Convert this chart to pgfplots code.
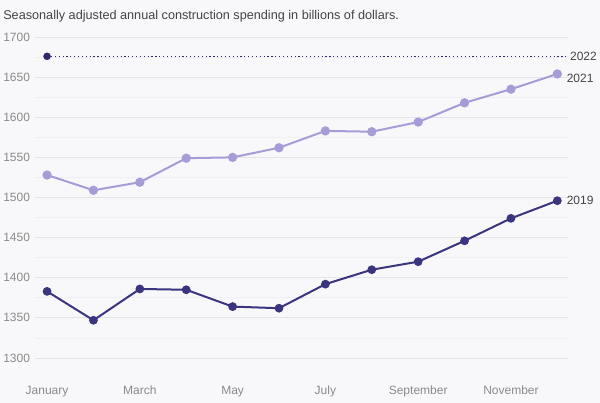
\documentclass[border=0pt]{standalone}
\usepackage{pgfplots}
\pgfplotsset{compat=1.18}
\usepackage{fontspec}
\setmainfont{Liberation Sans}
\definecolor{bgc}{HTML}{F8F8FA}
\definecolor{darkc}{HTML}{3B347F}
\definecolor{lightc}{HTML}{A59CD8}
\definecolor{navyc}{HTML}{2F2A6E}
\definecolor{tickc}{HTML}{8A8A8A}
\definecolor{labc}{HTML}{444444}
\definecolor{gridc}{HTML}{E4E4E8}
\definecolor{mgridc}{HTML}{F0F0F3}
\begin{document}
\begin{tikzpicture}
\fill[bgc] (0pt,0pt) rectangle (450pt,-302.25pt);
\node[anchor=base west, inner sep=0, text=labc, font=\fontsize{9.5}{11}\selectfont] at (2.25pt,-14.5pt) {Seasonally adjusted annual construction spending in billions of dollars.};
\begin{axis}[
  at={(26.25pt,-280.5pt)}, anchor=south west,
  scale only axis, width=399.75pt, height=258.75pt,
  xmin=-0.26, xmax=11.23, ymin=1280, ymax=1710,
  axis line style={draw=none},
  tick style={draw=none},
  ytick={1300,1350,...,1700},
  minor ytick={1325,1375,...,1675},
  ymajorgrids, yminorgrids,
  major grid style={draw=gridc, line width=0.6pt},
  minor grid style={draw=mgridc, line width=0.5pt},
  xtick={0,2,4,6,8,10},
  xticklabels={January,March,May,July,September,November},
  ticklabel style={text=tickc, font=\fontsize{9}{10}\selectfont},
  yticklabel style={anchor=west, inner sep=0pt, xshift=-24pt},
  xticklabel style={inner sep=0pt, anchor=base, yshift=-15.5pt},
  /pgf/number format/assume math mode=true,
  /pgf/number format/1000 sep={},
  clip=false,
]
\addplot[navyc, line width=0.9pt, dotted, forget plot] coordinates {(0,1676) (11.22,1676)} node[right, text=labc, font=\fontsize{9}{10}\selectfont, inner sep=1.5pt] {2022};
\addplot[only marks, mark=*, mark size=2.6pt, navyc] coordinates {(0,1676)};
\addplot[lightc, line width=1.5pt, mark=*, mark size=2.7pt] coordinates {
(0,1528) (1,1509) (2,1519) (3,1549) (4,1550) (5,1562) (6,1583) (7,1582) (8,1594) (9,1618) (10,1635) (11,1654)}
node[right, text=labc, font=\fontsize{9}{10}\selectfont, xshift=3pt, yshift=-3pt] {2021};
\addplot[darkc, line width=1.5pt, mark=*, mark size=2.5pt] coordinates {
(0,1383) (1,1347) (2,1386) (3,1385) (4,1364) (5,1362) (6,1392) (7,1410) (8,1420) (9,1446) (10,1474) (11,1496)}
node[right, text=labc, font=\fontsize{9}{10}\selectfont, xshift=3pt] {2019};
\end{axis}
\end{tikzpicture}
\end{document}
